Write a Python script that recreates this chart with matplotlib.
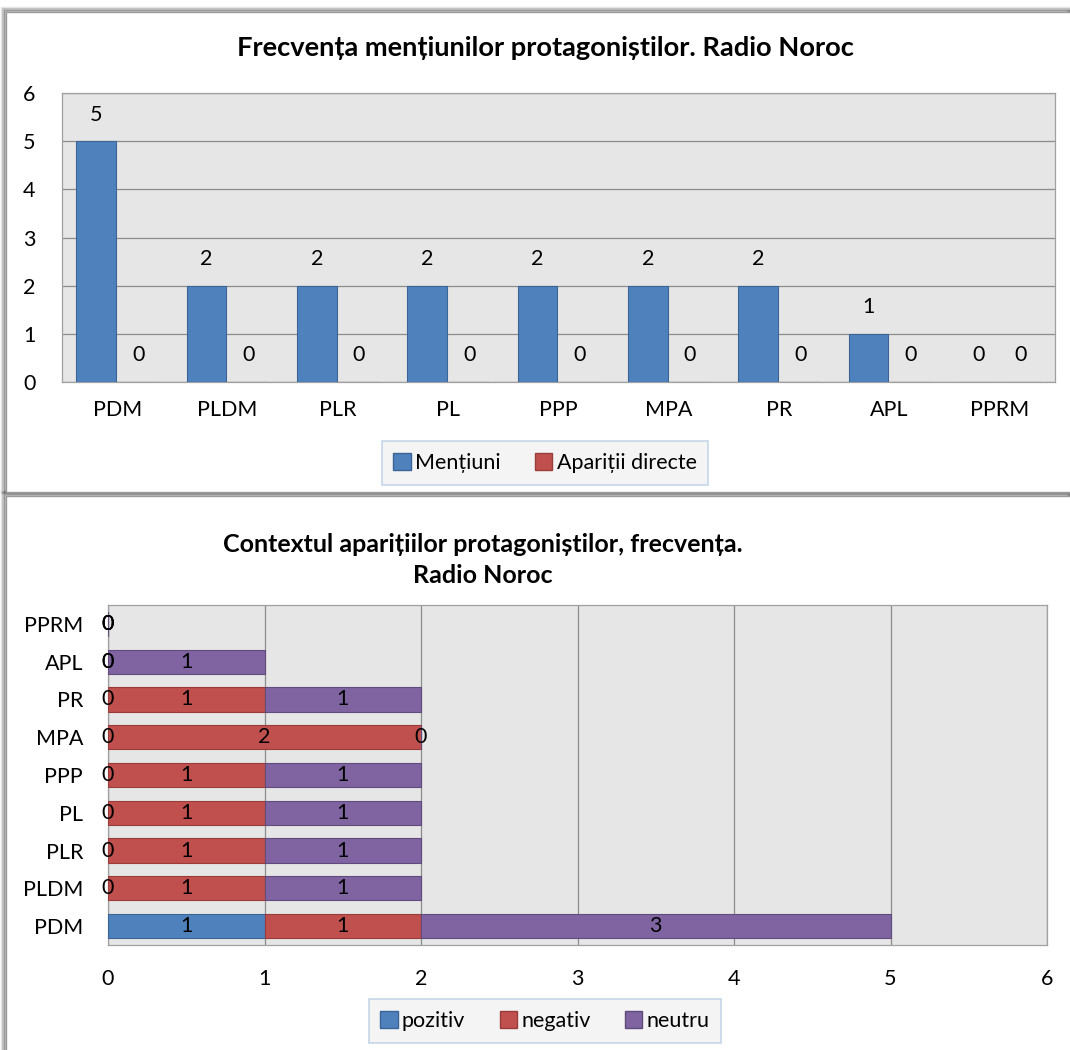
#!/usr/bin/env python3

import numpy as np
import matplotlib
matplotlib.use("Agg")
import matplotlib.pyplot as plt
from matplotlib.patches import Rectangle, Patch

plt.rcParams["font.family"] = ["Lato", "DejaVu Sans"]

parties = ["PDM", "PLDM", "PLR", "PL", "PPP", "MPA", "PR", "APL", "PPRM"]
mentiuni = [5, 2, 2, 2, 2, 2, 2, 1, 0]
aparitii = [0, 0, 0, 0, 0, 0, 0, 0, 0]

pozitiv = [1, 0, 0, 0, 0, 0, 0, 0, 0]
negativ = [1, 1, 1, 1, 1, 2, 1, 0, 0]
neutru = [3, 1, 1, 1, 1, 0, 1, 1, 0]

BLUE, RED, PURPLE = "#4F81BD", "#C0504D", "#8064A2"
BLUE_E, RED_E, PURPLE_E = "#3A6597", "#9B3C3A", "#5F4B7C"
BG = "#E6E6E6"
FS = 15.5

W, H = 1070, 1050
fig = plt.figure(figsize=(W / 100, H / 100), dpi=100)


def fbox(x0, y0, x1, y1):
    # pixel box (top-left origin) -> figure fraction [l, b, w, h]
    return [x0 / W, 1 - y1 / H, (x1 - x0) / W, (y1 - y0) / H]


def legend(handles, ycenter):
    leg = fig.legend(handles=handles, loc="center",
                     bbox_to_anchor=(545 / W, 1 - ycenter / H), ncol=len(handles),
                     fontsize=FS, frameon=True, fancybox=False, handlelength=0.8,
                     handleheight=0.8, handletextpad=0.2, columnspacing=1.6,
                     borderpad=0.55, borderaxespad=0)
    frame = leg.get_frame()
    frame.set_edgecolor("#B9CDE5")
    frame.set_facecolor("#F2F2F2")
    frame.set_linewidth(1.2)
    return leg


# chart frames with a soft shadow
for (x0, y0, x1, y1) in [(6, 12, 1072, 492), (6, 496, 1072, 1052)]:
    for k, a in enumerate([0.10, 0.18, 0.30]):
        fig.patches.append(Rectangle((x0 / W - (3 - k) * 0.0012, 1 - y1 / H),
                                     (x1 - x0) / W, (y1 - y0) / H + (3 - k) * 0.0012,
                                     transform=fig.transFigure, facecolor="none",
                                     edgecolor="black", alpha=a, lw=2.5 - k * 0.6,
                                     zorder=-10))
    fig.patches.append(Rectangle((x0 / W, 1 - y1 / H), (x1 - x0) / W, (y1 - y0) / H,
                                 transform=fig.transFigure, facecolor="white",
                                 edgecolor="#9A9A9A", lw=1.0, zorder=-9))

# ---------- top chart ----------
ax1 = fig.add_axes(fbox(62, 93, 1055, 382))
ax1.set_facecolor(BG)
x = np.arange(len(parties))
bw = 0.36
b1 = ax1.bar(x - 0.19, mentiuni, bw, color=BLUE, edgecolor=BLUE_E, lw=0.8, zorder=3)
b2 = ax1.bar(x + 0.19, aparitii, bw, color=RED, edgecolor=RED_E, lw=0.8, zorder=3)
for bars in (b1, b2):
    ax1.bar_label(bars, padding=12, fontsize=FS)
ax1.set_xlim(-0.5, len(parties) - 0.5)
ax1.set_ylim(0, 6)
ax1.set_yticks(range(7))
ax1.set_xticks(x)
ax1.set_xticklabels(parties)
ax1.yaxis.grid(True, color="#8C8C8C", lw=0.9, zorder=0)
ax1.tick_params(length=0, labelsize=FS)
ax1.tick_params(axis="x", pad=13)
ax1.tick_params(axis="y", pad=19)
for s in ax1.spines.values():
    s.set_color("#A0A0A0")
    s.set_linewidth(0.9)
fig.text(545 / W, 1 - 48 / H, "Frecvența mențiunilor protagoniștilor. Radio Noroc",
         ha="center", va="center", fontsize=19.6, fontweight="bold")
legend([Patch(facecolor=BLUE, edgecolor=BLUE_E, label="Mențiuni"),
        Patch(facecolor=RED, edgecolor=RED_E, label="Apariții directe")], 463)

# ---------- bottom chart ----------
ax2 = fig.add_axes(fbox(108, 605, 1047, 945))
ax2.set_facecolor(BG)
y = np.arange(len(parties))
bh = 0.64
left = np.zeros(len(parties))
for vals, col, ec in [(pozitiv, BLUE, BLUE_E), (negativ, RED, RED_E), (neutru, PURPLE, PURPLE_E)]:
    bars = ax2.barh(y, vals, bh, left=left, color=col, edgecolor=ec, lw=0.8, zorder=3)
    for t in ax2.bar_label(bars, label_type="center", fontsize=FS):
        t.set_clip_on(False)
        t.set_zorder(5)
    left = left + np.array(vals)
ax2.set_xlim(0, 6)
ax2.set_ylim(-0.5, len(parties) - 0.5)
ax2.set_xticks(range(7))
ax2.set_yticks(y)
ax2.set_yticklabels(parties)
ax2.xaxis.grid(True, color="#8C8C8C", lw=0.9, zorder=0)
ax2.tick_params(length=0, labelsize=FS)
ax2.tick_params(axis="x", pad=17)
ax2.tick_params(axis="y", pad=18)
for s in ax2.spines.values():
    s.set_color("#A0A0A0")
    s.set_linewidth(0.9)
fig.text(483 / W, 1 - 560 / H, "Contextul aparițiilor protagoniștilor, frecvența.\nRadio Noroc",
         ha="center", va="center", fontsize=18, fontweight="bold", linespacing=1.4)
legend([Patch(facecolor=BLUE, edgecolor=BLUE_E, label="pozitiv"),
        Patch(facecolor=RED, edgecolor=RED_E, label="negativ"),
        Patch(facecolor=PURPLE, edgecolor=PURPLE_E, label="neutru")], 1021)

fig.savefig("out.png", dpi=100)
